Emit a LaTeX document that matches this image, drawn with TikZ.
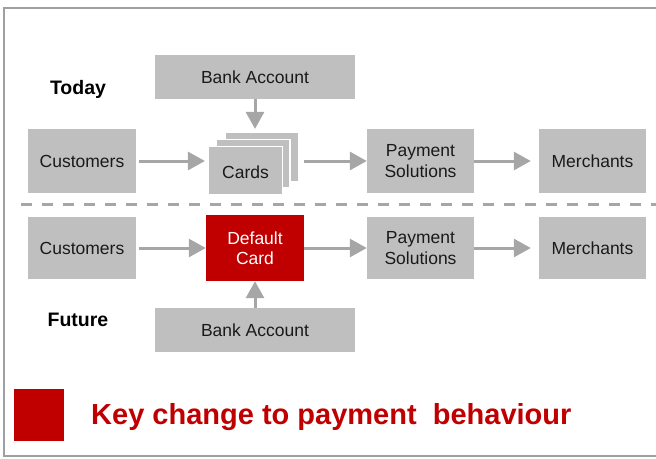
\documentclass[tikz,border=0pt]{standalone}
\usepackage{fontspec}
\setmainfont{Liberation Sans}
\usetikzlibrary{arrows.meta}
\definecolor{boxgray}{HTML}{BFBFBF}
\definecolor{arrgray}{HTML}{A6A6A6}
\definecolor{framegray}{HTML}{A0A0A0}
\definecolor{keyred}{HTML}{C00000}
\definecolor{txt}{HTML}{1A1A1A}
\tikzset{
  gbox/.style={fill=boxgray, draw=none, inner sep=0pt, align=center, text=txt,
    font=\fontsize{17.5}{20.5}\selectfont},
  cardbox/.style={fill=boxgray, draw=white, line width=1.2pt, inner sep=0pt, align=center, text=txt,
    font=\fontsize{17.5}{20.5}\selectfont},
  rbox/.style={fill=keyred, draw=none, inner sep=0pt, align=center, text=white,
    font=\fontsize{17.5}{20.5}\selectfont},
  lbl/.style={font=\bfseries\fontsize{19.5}{22}\selectfont, text=black},
  arr/.style={draw=arrgray, line width=3pt, -{Triangle[width=18pt,length=17pt]}},
}
\begin{document}
\begin{tikzpicture}[x=1pt,y=-1pt]
\useasboundingbox (0,0) rectangle (656,458);
\draw[framegray, line width=2pt] (657,8) -- (4,8) -- (4,456) -- (657,456);
% Today row
\node[lbl] (today) at (78,89) {Today};
\node[gbox, minimum width=200pt, minimum height=44pt] (bankT) at (255,77) {Bank Account};
\node[gbox, minimum width=108pt, minimum height=64pt] (cust1) at (82,161) {Customers};
\node[cardbox, minimum width=73pt, minimum height=49pt] (back) at (262,157) {};
\node[cardbox, minimum width=74pt, minimum height=48pt] (mid) at (253,163.5) {};
\node[cardbox, minimum width=74pt, minimum height=48pt, text height=17pt, text depth=0.6pt] (cards) at (245.5,170.5) {Cards};
\node[gbox, minimum width=107pt, minimum height=64pt] (pay1) at (420.5,161) {Payment\\Solutions};
\node[gbox, minimum width=107pt, minimum height=64pt] (merch1) at (592.5,161) {Merchants};
\draw[arr, shorten >=3pt] (bankT.south) -- (bankT.south |- back.north);
\draw[arr, shorten <=3pt, shorten >=3pt] (cust1.east) -- (cust1.east -| cards.west);
\draw[arr, shorten <=5pt] (pay1.west -| back.east) -- (pay1.west);
\draw[arr, shorten >=8pt] (pay1.east) -- (merch1.west);
% divider
\draw[arrgray, line width=3pt, dash pattern=on 11pt off 10pt] (21,204) -- (656,204);
% Future row
\node[gbox, minimum width=108pt, minimum height=62pt] (cust2) at (82,248) {Customers};
\node[rbox, minimum width=98pt, minimum height=66pt] (def) at (255,248) {Default\\Card};
\node[gbox, minimum width=107pt, minimum height=62pt] (pay2) at (420.5,248) {Payment\\Solutions};
\node[gbox, minimum width=107pt, minimum height=62pt] (merch2) at (592.5,248) {Merchants};
\node[gbox, minimum width=200pt, minimum height=44pt] (bankB) at (255,330) {Bank Account};
\node[lbl] (future) at (78,320) {Future};
\draw[arr, shorten <=3pt] (cust2.east) -- (def.west);
\draw[arr] (def.east) -- (pay2.west);
\draw[arr, shorten >=8pt] (pay2.east) -- (merch2.west);
\draw[arr] (bankB.north) -- (def.south);
% legend
\node[fill=keyred, minimum width=50pt, minimum height=52pt, inner sep=0pt] (keysq) at (39,415) {};
\node[anchor=west, inner sep=0pt, text=keyred, font=\bfseries\fontsize{29}{32}\selectfont] (keytxt) at (91,417) {Key change to payment\ \ behaviour};
\end{tikzpicture}
\end{document}
